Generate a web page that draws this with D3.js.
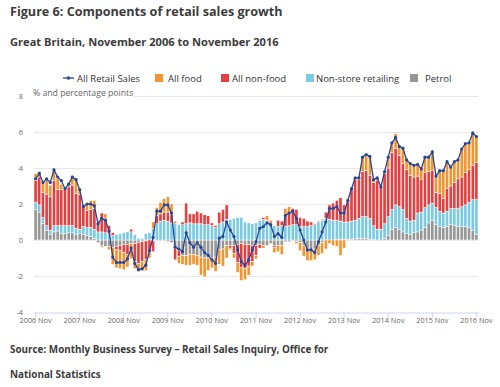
<!DOCTYPE html>
<html><head><meta charset="utf-8">
<script src="https://cdn.jsdelivr.net/npm/d3@7"></script>
<style>
body{margin:0;background:#fff}
svg{display:block;font-family:"Open Sans",sans-serif}
</style>
</head><body>
<svg id="chart" width="500" height="387"></svg>
<script>
// ---- data ----
const tickLabels = ["2006 Nov","2007 Nov","2008 Nov","2009 Nov","2010 Nov","2011 Nov","2012 Nov","2013 Nov","2014 Nov","2015 Nov","2016 Nov"];
const yTicks = [-4,-2,0,2,4,6,8];
const seriesNames = ["All Retail Sales","All food","All non-food","Non-store retailing","Petrol"];
const categories = d3.timeMonth.range(new Date(2006,10,1), new Date(2016,11,1)); // Nov 2006 .. Nov 2016

const petrol = [
 1.7,1.55,0.9,0.55,0.3,0.45,0.5,0.35,0.35,0.4,0.4,0.3,
 0.35,0.3,0.25,0.2,0.1,-0.15,-0.3,-0.35,-0.35,-0.4,-0.35,-0.3,
 -0.25,-0.25,-0.2,-0.2,-0.15,-0.1,-0.05,0,-0.05,-0.05,-0.05,-0.05,
 -0.1,-0.15,-0.45,-0.6,-0.85,-0.85,-0.8,-0.8,-0.85,-0.95,-1.0,-1.0,
 -1.0,-0.95,-0.55,-0.5,-0.3,-0.3,-0.3,-0.25,-0.2,-0.25,-0.25,-0.3,
 -0.3,-0.25,-0.3,-0.3,-0.2,-0.3,-0.3,-0.3,-0.1,-0.1,-0.05,-0.1,
 -0.15,-0.3,-0.5,-0.55,-0.5,-0.3,-0.15,0,0,0,0.05,0.05,
 0.05,0.05,0.05,0.1,0.1,0.1,0.1,0.05,0.05,0,-0.05,0.1,
 0.25,0.6,0.7,0.6,0.45,0.35,0.3,0.4,0.45,0.55,0.7,0.95,
 1.1,0.85,0.75,0.7,0.75,0.85,0.8,0.75,0.75,0.75,0.7,0.55,
 0.3];
const nonStore = [
 0.4,0.4,0.35,0.25,0.25,0.35,0.3,0.45,0.45,0.4,0.4,0.35,
 0.25,0.45,0.45,0.5,0.5,0.45,0.45,0.4,0.35,0.25,0.3,0.35,
 0.4,0.45,0.45,0.3,0.1,0.1,0.35,0.4,0.65,0.9,1.05,1.1,
 1.05,0.95,0.9,0.85,0.85,0.9,0.95,0.9,0.9,0.9,0.85,0.85,
 0.8,0.7,0.9,1.0,1.15,1.15,1.2,1.25,1.25,1.0,0.95,0.9,
 0.95,1.1,1.15,1.05,0.9,0.8,0.75,0.8,0.75,0.8,0.85,0.85,
 0.75,0.75,0.75,0.8,0.85,1.0,1.1,1.2,1.15,1.1,1.05,1.0,
 0.95,0.95,1.0,1.0,1.1,1.2,1.2,1.15,0.75,0.6,0.6,0.8,
 1.05,1.1,1.25,1.25,1.25,0.85,0.75,0.7,1.05,1.0,1.1,1.0,
 0.95,0.95,0.85,0.8,0.85,0.9,0.95,1.0,1.1,1.2,1.4,1.7,
 1.95];
const nonFood = [
 1.2,1.55,1.4,1.75,1.85,2.5,2.0,2.0,2.0,2.15,2.25,1.95,
 1.95,1.1,0.95,1.0,1.15,0.55,1.05,0.8,0.45,0.15,-0.2,-0.3,
 -0.45,-0.55,0.15,-1.0,-1.15,-1.1,-1.05,-0.7,-0.6,0.45,0.4,0.45,
 0.5,0.45,-0.65,-0.3,0.15,1.15,0.5,0.55,0.7,0.6,0.55,0.5,
 0.15,0.1,0.65,0.7,0.8,-0.15,-0.45,-1.0,-1.35,-1.35,-1.2,-0.9,
 -0.55,-0.2,0.1,0.05,0.0,-0.1,0.35,0.25,0.55,0.7,0.9,0.85,
 0.5,0.45,0.3,0.2,0.05,0.05,0.05,0.35,0.8,0.95,1.1,1.3,
 0.95,1.2,1.8,2.25,2.15,2.5,2.55,2.4,2.4,2.7,2.3,2.8,
 2.7,3.15,3.15,2.85,2.55,2.7,2.55,2.4,2.05,1.8,1.95,1.85,
 1.8,0.85,1.0,0.8,1.25,1.25,1.45,1.65,1.65,1.8,1.8,1.9,
 2.05];
const food = [
 0.4,0.3,0.55,0.85,0.65,0.65,0.6,0.3,0.05,0.1,0.55,0.85,
 0.25,0.05,0.35,0.5,0.45,0.1,-0.1,0.25,-0.2,-0.95,-1.0,-1.0,
 -0.95,-0.7,-0.85,-0.4,-0.45,-0.5,-0.6,-0.3,0.35,0.45,0.65,0.75,
 0.85,0.6,0.15,-0.4,-0.5,-0.55,-0.6,-0.55,-0.55,-1.0,-1.05,-0.7,
 -0.55,-0.8,-0.8,-0.95,-0.7,-0.1,-0.25,-0.55,-0.7,-0.6,-0.5,-0.25,
 -0.2,0.05,-0.15,0.25,0.2,-0.3,-0.35,-0.5,0.45,0.35,0.0,-0.1,
 -0.45,-0.6,-0.65,-0.6,-0.6,-0.55,-0.6,-0.5,-0.2,-0.3,-0.35,-0.85,
 -0.45,0.0,0.0,0.1,0.1,0.8,0.9,1.05,0.15,0.15,0.05,0.1,
 0.6,0.55,0.8,0.5,0.85,0.55,0.65,0.65,0.65,0.6,0.85,0.8,
 1.05,0.9,1.25,1.55,1.5,1.05,1.15,1.05,1.55,1.6,1.5,1.8,
 1.45];
const allRetail = [
 3.4,3.7,3.2,3.4,3.2,3.9,3.5,3.3,2.85,3.1,3.5,3.35,
 2.8,1.85,2.0,2.0,1.9,0.9,1.2,1.1,0.5,-0.95,-1.25,-1.25,
 -1.25,-1.05,-0.45,-1.3,-1.65,-1.6,-1.4,-0.6,0.15,1.6,1.6,1.95,
 1.95,1.5,-0.4,-0.5,-0.65,0.4,-0.15,-0.4,-0.15,-0.4,-0.7,-0.85,
 -1.1,-1.3,0.1,0.2,1.0,0.55,0.2,-0.55,-1.2,-1.4,-1.1,-0.55,
 -0.1,0.65,0.75,0.95,0.85,0.2,0.35,0.15,1.35,1.5,1.6,1.2,
 0.55,0.0,-0.55,-0.55,-0.7,-0.1,0.45,1.0,1.75,1.75,1.85,1.5,
 1.5,2.2,2.85,3.45,3.45,4.6,4.75,4.65,3.35,3.45,2.95,3.8,
 4.6,5.4,5.7,5.2,5.1,4.45,4.25,4.15,4.2,3.95,4.6,4.6,
 4.9,3.55,3.85,3.85,4.35,4.05,4.35,4.45,5.05,5.35,5.4,5.95,
 5.75];

// ---- build table ----
const rows = categories.map((d,i)=>({i, date:d, petrol:petrol[i], nonStore:nonStore[i], nonFood:nonFood[i], food:food[i], total:allRetail[i]}));
const keys = ["petrol","nonStore","nonFood","food"];
const colors = {total:"#274796", food:"#F5942F", nonFood:"#E73F40", nonStore:"#7BCAE2", petrol:"#979796"};

const svg = d3.select("#chart");
const x = d3.scaleBand().domain(d3.range(rows.length)).range([33.8, 478.2]).paddingInner(0.14).paddingOuter(0.06);
const y = d3.scaleLinear().domain([-4,8]).range([312,96]);
const xc = i => x(i) + x.bandwidth()/2;

// titles
svg.append("text").attr("x",10).attr("y",15.5).attr("font-size",12.6).attr("font-weight",700).attr("fill","#3c3c3c").text("Figure 6: Components of retail sales growth");
svg.append("text").attr("x",10).attr("y",46).attr("font-size",11.1).attr("font-weight",700).attr("fill","#3c3c3c").text("Great Britain, November 2006 to November 2016");

// gridlines
svg.append("g").selectAll("line").data(yTicks.filter(t=>t>-4)).join("line")
  .attr("x1",33.8).attr("x2",478.2).attr("y1",d=>Math.round(y(d))+0.5).attr("y2",d=>Math.round(y(d))+0.5)
  .attr("stroke","#e6e6e6").attr("stroke-width",1);

// y labels
svg.append("g").selectAll("text").data(yTicks).join("text")
  .attr("x",23).attr("y",d=>y(d)).attr("dy","0.35em").attr("text-anchor","end")
  .attr("font-size",7.4).attr("fill","#666").text(d=>d);

// axis title with white background
svg.append("rect").attr("x",31).attr("y",88).attr("width",103).attr("height",10).attr("fill","#fff");
svg.append("text").attr("x",33).attr("y",96).attr("font-size",8.7).attr("fill","#666").text("% and percentage points");

// x axis
const xAxis = d3.axisBottom(x).tickValues(d3.range(0,121,12)).tickSize(5).tickSizeOuter(0)
  .tickFormat(i=>tickLabels[i/12]);
const gx = svg.append("g").attr("transform","translate(0,312.5)").call(xAxis);
gx.select(".domain").attr("stroke","#ccd6eb");
gx.selectAll(".tick line").attr("stroke","#ccd6eb");
gx.selectAll(".tick text").attr("font-size",7.3).attr("fill","#666").attr("font-family","Open Sans, sans-serif").attr("dy","0.6em").attr("y",6);

// stacked bars
const stack = d3.stack().keys(keys).offset(d3.stackOffsetDiverging);
const layers = stack(rows);
svg.append("g").selectAll("g").data(layers).join("g")
  .attr("fill",d=>colors[d.key])
  .selectAll("rect").data(d=>d).join("rect")
  .attr("x",(d,i)=>x(i)).attr("width",x.bandwidth())
  .attr("y",d=>y(Math.max(d[0],d[1]))).attr("height",d=>Math.abs(y(d[0])-y(d[1])))
  .attr("stroke","#fff").attr("stroke-width",0.5);

// line
const line = d3.line().x(d=>xc(d.i)).y(d=>y(d.total));
svg.append("path").datum(rows).attr("d",line).attr("fill","none").attr("stroke",colors.total).attr("stroke-width",1.3);
svg.append("g").selectAll("circle").data(rows).join("circle")
  .attr("cx",d=>xc(d.i)).attr("cy",d=>y(d.total)).attr("r",1.6).attr("fill",colors.total);

// legend
const lg = svg.append("g").attr("font-size",9.5).attr("fill","#333");
lg.append("line").attr("x1",63).attr("x2",74).attr("y1",78).attr("y2",78).attr("stroke",colors.total).attr("stroke-width",1.3);
lg.append("circle").attr("cx",68.5).attr("cy",78).attr("r",1.8).attr("fill",colors.total);
lg.append("text").attr("x",77).attr("y",81.5).text(seriesNames[0]);
const sq = [{k:"food",x:155,tx:168},{k:"nonFood",x:221,tx:232},{k:"nonStore",x:306,tx:316},{k:"petrol",x:410,tx:425}];
sq.forEach((s,j)=>{
  lg.append("rect").attr("x",s.x).attr("y",74).attr("width",8).attr("height",8).attr("fill",colors[s.k]);
  lg.append("text").attr("x",s.tx).attr("y",81.5).text(seriesNames[j+1]);
});

// source
svg.append("text").attr("x",10).attr("y",353).attr("font-size",9.9).attr("font-weight",700).attr("fill","#3c3c3c").text("Source: Monthly Business Survey \u2013 Retail Sales Inquiry, Office for");
svg.append("text").attr("x",10).attr("y",378).attr("font-size",9.9).attr("font-weight",700).attr("fill","#3c3c3c").text("National Statistics");
</script>
</body></html>
